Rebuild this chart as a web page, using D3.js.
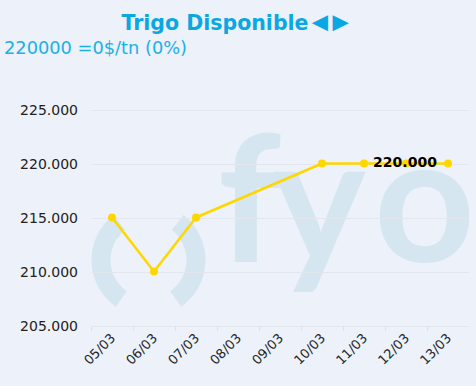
<!DOCTYPE html>
<html><head><meta charset="utf-8">
<script src="https://cdn.jsdelivr.net/npm/d3@7"></script>
<style>html,body{margin:0;padding:0;background:#edf1f9;}svg{display:block;}</style>
</head><body>
<svg id="c" width="476" height="386"></svg>
<script>
const categories = ["05/03","06/03","07/03","08/03","09/03","10/03","11/03","12/03","13/03"];
const prices = [215000, 210000, 215000, null, null, 220000, 220000, 220000, 220000];
const yTicks = [205000, 210000, 215000, 220000, 225000];
const titleMain = "Trigo Disponible";
const titleArrows = "\u25C4\u25BA";
const subtitleText = "220000 =0$/tn (0%)";
const labelIndex = 7;

const svg = d3.select("#c");
const W = 476, H = 386;
svg.append("rect").attr("width", W).attr("height", H).attr("fill", "#edf1f9");

const x = d3.scaleBand().domain(categories).range([91, 469]);
const y = d3.scaleLinear().domain([205000, 225000]).range([325.5, 109.5]);

// watermark
const wm = svg.append("g").attr("fill", "#d5e6f0");
const arc = d3.arc().innerRadius(38).outerRadius(57);
const deg = Math.PI / 180;
wm.append("path").attr("transform", "translate(148.5,260)")
  .attr("d", arc({startAngle: 215 * deg, endAngle: 322 * deg}));
wm.append("path").attr("transform", "translate(148.5,260)")
  .attr("d", arc({startAngle: 38 * deg, endAngle: 145 * deg}));
const clip = svg.append("clipPath").attr("id", "pc");
clip.append("rect").attr("x", 0).attr("y", 0).attr("width", 469).attr("height", 386);
const wmt = wm.append("text").attr("clip-path", "url(#pc)").attr("y", 262)
  .attr("font-family", "Lato").attr("font-weight", "bold").attr("font-size", 176);
wmt.append("tspan").attr("x", 218).text("f");
wmt.append("tspan").attr("x", 273).text("y");
wmt.append("tspan").attr("x", 374).text("o");

// grid
const grid = svg.append("g");
grid.selectAll("line").data(yTicks).join("line")
  .attr("x1", 91).attr("x2", 469)
  .attr("y1", d => Math.round(y(d)) + 0.5).attr("y2", d => Math.round(y(d)) + 0.5)
  .attr("stroke", "#e3e6ec").attr("stroke-width", 1);

// y labels
svg.append("g").selectAll("text").data(yTicks).join("text")
  .attr("x", 78).attr("y", d => y(d)).attr("dy", "0.36em")
  .attr("text-anchor", "end")
  .attr("font-family", "DejaVu Sans").attr("font-size", 14).attr("fill", "#222")
  .text(d => d3.format(",")(d).replace(/,/g, "."));

// x ticks
svg.append("g").selectAll("line").data(categories).join("line")
  .attr("x1", d => Math.round(x(d)) + 0.5).attr("x2", d => Math.round(x(d)) + 0.5)
  .attr("y1", 326).attr("y2", 331)
  .attr("stroke", "#dde1e8");

svg.append("g").selectAll("text").data(categories).join("text")
  .attr("transform", d => `translate(${x(d) + x.bandwidth() / 2 + 4},${339}) rotate(-45)`)
  .attr("text-anchor", "end")
  .attr("font-family", "DejaVu Sans").attr("font-size", 13).attr("fill", "#222")
  .text(d => d);

// line
const pts = categories.map((c, i) => ({c, v: prices[i]})).filter(d => d.v !== null);
const line = d3.line().x(d => x(d.c) + x.bandwidth() / 2).y(d => y(d.v));
svg.append("path").attr("d", line(pts)).attr("fill", "none")
  .attr("stroke", "#ffd700").attr("stroke-width", 2.5).attr("stroke-linejoin", "round");
svg.append("g").selectAll("circle").data(pts).join("circle")
  .attr("cx", d => x(d.c) + x.bandwidth() / 2).attr("cy", d => y(d.v)).attr("r", 4)
  .attr("fill", "#ffd700");

// data label
svg.append("text")
  .attr("x", x(categories[labelIndex]) + x.bandwidth() / 2 - 1)
  .attr("y", y(prices[labelIndex]) + 3)
  .attr("text-anchor", "middle")
  .attr("font-family", "DejaVu Sans").attr("font-weight", "bold").attr("font-size", 14)
  .attr("fill", "#000")
  .text(d3.format(",")(prices[labelIndex]).replace(/,/g, "."));

// titles
const t = svg.append("text").attr("x", 121.5).attr("y", 29.5)
  .attr("font-family", "DejaVu Sans").attr("font-weight", "bold").attr("font-size", 20.5)
  .attr("fill", "#0aa8e2");
t.append("tspan").text(titleMain);
t.append("tspan").attr("font-family", "Liberation Sans").attr("font-size", 27)
  .attr("letter-spacing", -6).attr("dx", -2).attr("dy", 1).text(titleArrows);
svg.append("text").attr("x", 4).attr("y", 54)
  .attr("font-family", "DejaVu Sans").attr("font-size", 17.8)
  .attr("fill", "#1ab0e8").text(subtitleText);
</script>
</body></html>
